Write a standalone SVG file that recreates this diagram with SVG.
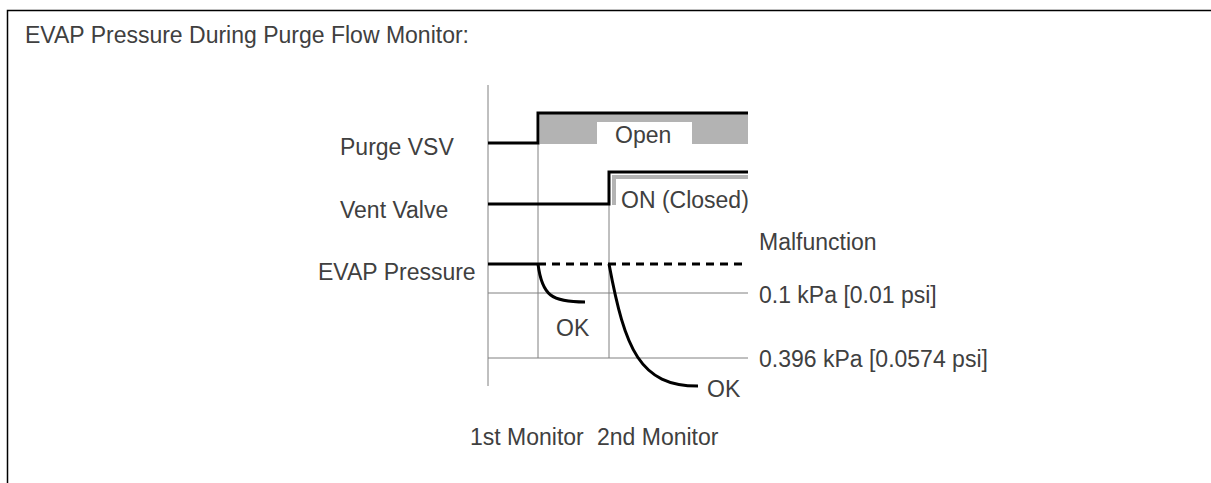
<svg xmlns="http://www.w3.org/2000/svg" width="1211" height="483" viewBox="0 0 1211 483">
<style>
.t{font-family:"Liberation Sans",Arial,sans-serif;font-size:23px;fill:#404040}
.sig{fill:none;stroke:#000;stroke-width:3}
.grid{fill:none;stroke:#808080;stroke-width:1}
</style>
<rect width="1211" height="483" fill="#fff"/>
<path d="M7.5,483 V10.5 H1211" fill="none" stroke="#000" stroke-width="1.5"/>
<text class="t" x="25" y="43">EVAP Pressure During Purge Flow Monitor:</text>
<g id="axes">
<line class="grid" x1="488" y1="85" x2="488" y2="386"/>
<line class="grid" x1="538" y1="113" x2="538" y2="358"/>
<line class="grid" x1="609" y1="172" x2="609" y2="358"/>
<line class="grid" x1="488" y1="293" x2="748" y2="293"/>
<line class="grid" x1="488" y1="358" x2="748" y2="358"/>
</g>
<g id="purge-vsv">
<path d="M540,114 H748 V144 H692 V122 H597 V144 H540 Z" fill="#b3b3b3"/>
<path class="sig" d="M488,143 H538 V113 H748"/>
<text class="t" x="340" y="155">Purge VSV</text>
<text class="t" x="615" y="143">Open</text>
</g>
<g id="vent-valve">
<path d="M614,205 V177 H748" fill="none" stroke="#b3b3b3" stroke-width="4"/>
<path class="sig" d="M488,204 H609 V172 H748"/>
<text class="t" x="340" y="218">Vent Valve</text>
<text class="t" x="621" y="208">ON (Closed)</text>
</g>
<g id="evap-pressure">
<path class="sig" d="M488,264 H538"/>
<path class="sig" d="M538,264 H748" stroke-dasharray="8,6"/>
<path class="sig" d="M538,264 C542,296 552,302 585,302" stroke-width="2.5"/>
<path class="sig" d="M609,264 C625,350 640,386 698,386" stroke-width="2.5"/>
<text class="t" x="318" y="280">EVAP Pressure</text>
<text class="t" x="556" y="336">OK</text>
<text class="t" x="707" y="397">OK</text>
</g>
<g id="labels">
<text class="t" x="759" y="250">Malfunction</text>
<text class="t" x="759" y="303">0.1 kPa [0.01 psi]</text>
<text class="t" x="759" y="367">0.396 kPa [0.0574 psi]</text>
<text class="t" x="470" y="445">1st Monitor</text>
<text class="t" x="597" y="445">2nd Monitor</text>
</g>
</svg>
